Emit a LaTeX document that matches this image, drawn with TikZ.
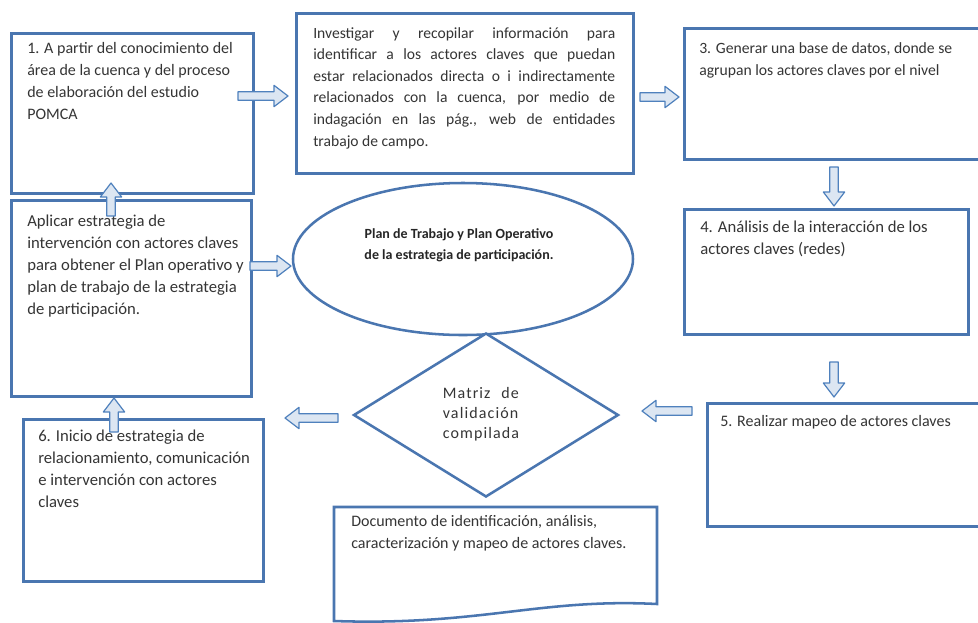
\documentclass[tikz,border=0pt]{standalone}
\usepackage{fontspec}
\setmainfont{Carlito}
\usetikzlibrary{calc,shapes.geometric}

\definecolor{boxblue}{HTML}{4A76B0}
\definecolor{arrowblue}{HTML}{4F81BD}
\definecolor{arrowfill}{HTML}{DCE6F2}
\definecolor{txtgray}{HTML}{353535}

% sizes of the hollow block arrows
\newcommand\bashaft{3.2pt}
\newcommand\bawide{8pt}
\newcommand\bahead{10.5pt}

% hollow block arrow from #1 (tail) to #2 (tip)
\newcommand\blockarrow[2]{%
  \draw[barrow] let \p1=(#1), \p2=(#2), \p3=($(\p2)!\bahead!(\p1)$) in
    ($(\p1)!\bashaft!90:(\p2)$) -- ($(\p3)!\bashaft!90:(\p2)$) -- ($(\p3)!\bawide!90:(\p2)$)
    -- (\p2) -- ($(\p3)!\bawide!-90:(\p2)$) -- ($(\p3)!\bashaft!-90:(\p2)$)
    -- ($(\p1)!\bashaft!-90:(\p2)$) -- cycle;}

\tikzset{
  box/.style={draw=boxblue, line width=1.9pt, fill=white, rectangle, inner sep=0pt, anchor=north west},
  txt/.style={font=\fontsize{12}{16.5}\selectfont, text=txtgray, align=left, inner sep=0pt, anchor=north west},
  bigtxt/.style={txt, font=\fontsize{12.5}{16.5}\selectfont},
  barrow/.style={draw=arrowblue, line width=0.9pt, fill=arrowfill, line join=round},
}

\begin{document}
\begin{tikzpicture}[x=0.75pt, y=-0.75pt]
\useasboundingbox (0,0) rectangle (978,622);
\fill[white] (0,0) rectangle (978,622);
\clip (0,0) rectangle (978,622);

% process boxes
\node[box, minimum width=181.5pt, minimum height=120pt] (b1) at (10,32) {};
\node[box, minimum width=252.75pt, minimum height=120pt] (b2) at (295,12) {};
\node[box, minimum width=226.5pt, minimum height=98.25pt] (b3) at (683,27) {};
\node[box, minimum width=213pt, minimum height=93.75pt] (b4) at (683,208) {};
\node[box, minimum width=210pt, minimum height=92.25pt] (b5) at (706,402) {};
\node[box, minimum width=180pt, minimum height=147pt] (b7) at (10,199) {};
\node[box, minimum width=180pt, minimum height=121.5pt] (b6) at (22,418) {};

% central ellipse and decision diamond
\node[draw=boxblue, line width=1.9pt, fill=white, ellipse, inner sep=0pt,
      minimum width=255pt, minimum height=114pt] (plan) at (463,259) {};
\node[draw=boxblue, line width=1.9pt, fill=white, diamond, inner sep=0pt,
      minimum width=198.75pt, minimum height=123pt] (matriz) at (486,415) {};

% document shape
\draw[draw=boxblue, line width=1.9pt, fill=white]
  (334,621) -- (334,507) -- (657,507) -- (657,604)
  .. controls (540,598) and (480,626) .. (334,621) -- cycle;

% texts
\node[txt] (t1) at (27,42) {1. A partir del conocimiento del\\
  área de la cuenca y del proceso\\ de elaboración del estudio\\ POMCA};
\node[txt, font=\fontsize{11.7}{16.2}\selectfont] (t2) at (313,27) {%
  \makebox[226.5pt][s]{Investigar y recopilar información para}\\
  \makebox[226.5pt][s]{identificar a los actores claves que puedan}\\
  \makebox[226.5pt][s]{estar relacionados directa o i indirectamente}\\
  \makebox[226.5pt][s]{relacionados con la cuenca, por medio de}\\
  \makebox[226.5pt][s]{indagación en las pág., web de entidades}\\
  trabajo de campo.};
\node[txt, font=\fontsize{11.75}{16.5}\selectfont] (t3) at (699,42) {3. Generar una base de datos, donde se\\
  agrupan los actores claves por el nivel};
\node[bigtxt] (t4) at (700,221) {4. Análisis de la interacción de los\\ actores claves (redes)};
\node[txt] (t5) at (720,415) {5. Realizar mapeo de actores claves};
\node[bigtxt] (t7) at (27,215) {Aplicar estrategia de\\ intervención con actores claves\\
  para obtener el Plan operativo y\\ plan de trabajo de la estrategia\\ de participación.};
\node[bigtxt] (t6) at (38,430) {6. Inicio de estrategia de\\ relacionamiento, comunicación\\
  e intervención con actores\\ claves};
\node[txt] (tdoc) at (351,515) {Documento de identificación, análisis,\\
  caracterización y mapeo de actores claves.};
\node[txt, anchor=center, align=center, font=\fontsize{10.5}{16}\selectfont\bfseries, text=black!85]
  (tplan) at (459,245) {Plan de Trabajo y Plan Operativo\\ de la estrategia de participación.};
\node[txt, anchor=center, font=\fontsize{12}{15}\selectfont\addfontfeature{LetterSpace=7}] (tmat) at (481,414)
  {\makebox[57pt][s]{Matriz de}\\ validación\\ compilada};

% arrow end points
\coordinate (a1s) at (238,96);  \coordinate (a1e) at (288,96);
\coordinate (a2s) at (640,97);  \coordinate (a2e) at (679,97);
\coordinate (a3s) at (834,167); \coordinate (a3e) at (834,206);
\coordinate (a4s) at (834,362); \coordinate (a4e) at (834,397);
\coordinate (a5s) at (692,411); \coordinate (a5e) at (642,411);
\coordinate (a6s) at (338,418); \coordinate (a6e) at (285,418);
\coordinate (a7s) at (114,432); \coordinate (a7e) at (114,398);
\coordinate (a8s) at (111,216); \coordinate (a8e) at (111,183);
\coordinate (a9s) at (250,266); \coordinate (a9e) at (291,266);

% flow arrows
\blockarrow{a1s}{a1e}
\blockarrow{a2s}{a2e}
\blockarrow{a3s}{a3e}
\blockarrow{a4s}{a4e}
\blockarrow{a5s}{a5e}
\blockarrow{a6s}{a6e}
\blockarrow{a7s}{a7e}
\blockarrow{a8s}{a8e}
\blockarrow{a9s}{a9e}
\end{tikzpicture}
\end{document}
